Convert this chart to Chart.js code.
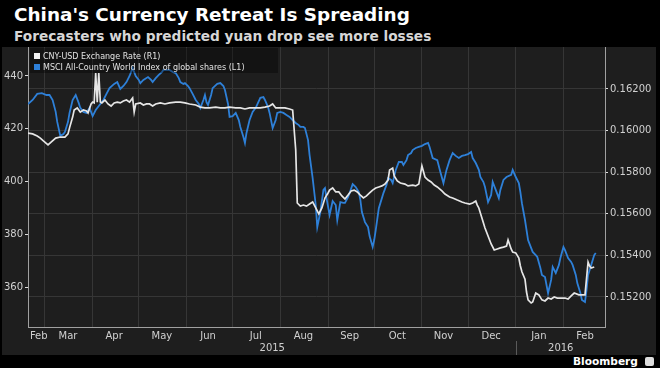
<!DOCTYPE html>
<html>
<head>
<meta charset="utf-8">
<script src="https://cdn.jsdelivr.net/npm/chart.js@4"></script>
<style>
  html, body { margin: 0; padding: 0; background: #000; }
  body { width: 660px; height: 368px; position: relative; overflow: hidden; font-family: "DejaVu Sans", sans-serif; }
  #title { position: absolute; left: 14px; top: 4px; color: #fff; font-weight: bold; font-size: 18.4px; line-height: 22px; white-space: nowrap; }
  #subtitle { position: absolute; left: 14px; top: 28px; color: #d6d6d6; font-weight: bold; font-size: 13.7px; line-height: 16px; white-space: nowrap; }
  #panel { position: absolute; left: 2px; top: 47px; width: 654px; height: 308px; background: #1e1e1e; }
  #legend { position: absolute; left: 30px; top: 48px; width: 248px; height: 25px; background: rgba(0,0,0,0.35); font-size: 8px; color: #e2e2e2; }
  #legend div { position: absolute; left: 4px; white-space: nowrap; line-height: 10px; }
  #legend span { display: inline-block; width: 6px; height: 6px; margin-right: 3px; vertical-align: 0px; }
  #brand { position: absolute; left: 573px; top: 355px; color: #fff; font-weight: bold; font-size: 10.6px; line-height: 13px; }
  #brand i { position: absolute; left: 72px; top: 2px; width: 9px; height: 9px; background: #ddd; border-radius: 2px; }
</style>
</head>
<body>
<div id="title">China's Currency Retreat Is Spreading</div>
<div id="subtitle">Forecasters who predicted yuan drop see more losses</div>
<div id="panel"><canvas id="chart" width="654" height="308"></canvas></div>
<div id="legend">
  <div style="top:4px"><span style="background:#f2f2f2"></span>CNY-USD Exchange Rate (R1)</div>
  <div style="top:15px"><span style="background:#2e80d8"></span>MSCI All-Country World Index of global shares (L1)</div>
</div>
<div id="brand">Bloomberg<i></i></div>
<script>
// x values are days counted from 1 Jan 2015 (day 0)
const cnyDays = [48,51,54,56,58,61,63,66,69,72,74,75,77,78,80,82,84,86,87,89,90,91,92,93,94,95,96,98,100,102,104,106,108,110,112,114,116,117,118,121,123,125,127,129,131,134,137,140,144,147,150,153,157,160,163,166,170,173,176,179,183,186,189,192,196,199,202,205,207,209,212,215,218,220,222,223,225,227,229,231,233,235,237,239,241,243,244,246,248,250,252,254,256,258,260,262,264,266,268,270,272,274,276,278,280,282,283,285,286,288,290,293,295,298,300,302,304,306,308,310,312,314,317,319,322,324,327,330,332,335,337,339,340,341,343,345,347,349,351,353,355,357,359,360,362,363,365,367,368,369,371,372,373,375,376,378,380,382,384,386,388,390,392,394,397,399,401,403,406,408,410,412,413,414,416];
const cnyRate = [0.15988,0.15984,0.15974,0.15964,0.15950,0.15931,0.15945,0.15964,0.15969,0.15969,0.15984,0.16013,0.16065,0.16099,0.16109,0.16089,0.16099,0.16094,0.16085,0.16128,0.16137,0.16133,0.16277,0.16137,0.16277,0.16137,0.16133,0.16147,0.16128,0.16118,0.16133,0.16137,0.16133,0.16142,0.16147,0.16137,0.16157,0.16089,0.16128,0.16133,0.16123,0.16128,0.16128,0.16118,0.16128,0.16133,0.16128,0.16133,0.16137,0.16137,0.16133,0.16128,0.16123,0.16113,0.16109,0.16109,0.16113,0.16109,0.16109,0.16113,0.16109,0.16109,0.16104,0.16109,0.16109,0.16109,0.16113,0.16118,0.16128,0.16109,0.16109,0.16109,0.16104,0.16099,0.15907,0.15652,0.15637,0.15642,0.15637,0.15647,0.15657,0.15628,0.15599,0.15628,0.15676,0.15700,0.15714,0.15724,0.15705,0.15705,0.15686,0.15671,0.15690,0.15710,0.15714,0.15705,0.15690,0.15676,0.15686,0.15700,0.15714,0.15724,0.15729,0.15734,0.15743,0.15762,0.15811,0.15820,0.15782,0.15758,0.15748,0.15743,0.15734,0.15738,0.15734,0.15743,0.15830,0.15777,0.15762,0.15753,0.15738,0.15729,0.15710,0.15695,0.15681,0.15676,0.15666,0.15657,0.15652,0.15647,0.15652,0.15661,0.15642,0.15628,0.15580,0.15532,0.15493,0.15455,0.15426,0.15431,0.15436,0.15440,0.15445,0.15474,0.15431,0.15416,0.15412,0.15387,0.15349,0.15321,0.15286,0.15224,0.15186,0.15171,0.15176,0.15219,0.15210,0.15186,0.15181,0.15195,0.15190,0.15200,0.15195,0.15195,0.15195,0.15190,0.15205,0.15219,0.15210,0.15210,0.15210,0.15368,0.15349,0.15339,0.15344];

const msciDays = [48,51,54,57,60,62,64,66,67,69,71,72,74,75,77,79,81,82,84,86,88,90,92,94,97,99,101,104,106,108,110,112,114,116,118,120,121,123,126,128,129,131,133,135,136,138,140,142,144,146,147,149,150,152,153,155,157,159,160,162,163,164,165,167,168,171,173,175,176,178,179,181,183,185,186,188,189,190,192,194,196,198,199,201,202,204,205,207,209,210,212,214,216,218,220,222,224,225,227,228,230,231,233,235,236,238,240,241,242,244,246,248,249,251,253,254,256,257,259,261,263,264,265,267,269,270,272,273,274,276,278,279,281,282,284,285,287,289,291,292,294,295,297,298,300,302,304,306,308,309,311,314,316,318,320,322,324,326,328,330,332,334,336,337,339,341,342,344,345,347,349,350,352,354,355,357,359,362,363,365,367,368,369,371,373,376,378,379,381,382,384,386,388,389,391,393,394,396,397,399,401,402,404,405,407,408,410,411,412,414,416,417];
const msciIndex = [429.4,430.9,433.2,433.5,432.8,432.8,430.9,426.4,422.6,417.3,418.0,418.8,422.6,426.0,430.9,432.8,429.7,427.9,426.4,426.0,427.9,424.8,427.1,428.6,430.9,433.2,435.4,437.0,437.7,435.1,436.2,437.7,440.0,443.0,440.0,438.5,437.3,438.5,439.6,438.5,437.7,439.2,440.4,441.5,442.3,442.3,442.3,441.5,441.1,439.2,437.7,437.0,437.3,436.2,435.4,433.2,430.9,429.4,427.9,430.9,432.8,430.1,429.0,432.8,435.4,437.0,437.3,436.2,434.7,429.4,424.5,424.8,426.0,423.3,420.7,416.9,414.6,418.4,423.3,426.4,427.9,430.5,431.7,432.0,430.9,428.2,426.0,420.3,423.3,426.0,426.4,426.0,425.2,424.5,423.3,422.2,421.4,420.7,420.7,420.3,415.7,410.0,401.3,391.1,382.7,388.4,396.8,397.5,393.7,387.3,392.6,391.1,385.4,392.2,391.9,391.9,394.1,395.6,399.0,397.9,396.0,393.0,388.4,384.6,382.7,379.3,375.2,377.8,381.6,389.9,393.7,395.6,398.7,401.3,400.6,399.4,404.4,407.4,407.4,406.3,408.1,410.0,410.8,411.9,412.7,413.1,413.5,414.2,414.6,413.1,408.9,408.1,403.6,399.4,404.4,408.1,410.8,409.7,408.9,409.7,410.0,410.4,411.2,408.9,407.0,404.4,401.7,399.8,397.9,392.2,394.9,399.8,396.8,393.7,396.8,400.6,401.7,402.5,404.4,401.7,399.4,396.0,391.8,385.4,377.8,373.3,372.1,371.4,367.2,364.6,363.8,357.7,362.7,367.6,365.3,368.3,371.0,375.2,374.0,371.0,369.5,368.3,364.6,361.5,357.7,355.1,354.3,358.9,364.6,368.3,372.1,372.9];

const monthStarts = [59,90,120,151,181,212,243,273,304,334,365,396];
const monthMids = [55,74,104,135,165,196,227,257,288,318,349,380,410];
const monthLabels = ['Feb','Mar','Apr','May','Jun','Jul','Aug','Sep','Oct','Nov','Dec','Jan','Feb'];
const years = ['2015','2016'];
const yearBreak = 365;
const leftTicks = [360,380,400,420,440];
const rightTicks = [0.152,0.154,0.156,0.158,0.160,0.162];

const gridColor = '#363636';
const axisColor = '#a0a0a0';
const labelColor = '#d0d0d0';
const font = { family: 'DejaVu Sans', size: 10 };

const yearMarks = {
  id: 'yearMarks',
  afterDraw(chart) {
    const sx = chart.scales.x, ctx = chart.ctx;
    const b = Math.round(sx.getPixelForValue(yearBreak)) + 0.5;
    ctx.save();
    ctx.fillStyle = labelColor;
    ctx.font = '10px "DejaVu Sans"';
    ctx.textAlign = 'center';
    ctx.textBaseline = 'middle';
    ctx.fillText(years[0], (sx.left + b) / 2, sx.top + 21);
    ctx.fillText(years[1], (b + sx.right) / 2, sx.top + 21);
    ctx.strokeStyle = '#5a5a5a';
    ctx.lineWidth = 1;
    ctx.beginPath();
    ctx.moveTo(b, sx.top + 14);
    ctx.lineTo(b, sx.top + 28);
    ctx.stroke();
    ctx.restore();
  }
};

function zeroPad(s) { s.paddingTop = 0; s.paddingBottom = 0; s.paddingLeft = 0; s.paddingRight = 0; }

new Chart(document.getElementById('chart'), {
  type: 'line',
  data: {
    datasets: [
      {
        label: 'CNY-USD Exchange Rate (R1)',
        data: cnyDays.map((d, i) => ({ x: d, y: cnyRate[i] })),
        yAxisID: 'yR',
        borderColor: '#e6e6e6',
        borderWidth: 1.7,
        pointRadius: 0,
        tension: 0
      },
      {
        label: 'MSCI All-Country World Index of global shares (L1)',
        data: msciDays.map((d, i) => ({ x: d, y: msciIndex[i] })),
        yAxisID: 'yL',
        borderColor: '#2e80d8',
        borderWidth: 1.8,
        pointRadius: 0,
        tension: 0
      }
    ]
  },
  options: {
    responsive: false,
    animation: false,
    layout: { padding: 0 },
    plugins: { legend: { display: false }, tooltip: { enabled: false } },
    scales: {
      x: {
        type: 'linear',
        min: 48,
        max: 423,
        afterBuildTicks: s => {
          s.ticks = monthStarts.concat(monthMids).sort((a, b) => a - b).map(v => ({ value: v }));
        },
        afterFit: s => { s.height = 28; zeroPad(s); },
        grid: {
          color: c => (c.tick && monthStarts.includes(c.tick.value)) ? gridColor : 'rgba(0,0,0,0)',
          drawTicks: false
        },
        border: { color: axisColor },
        ticks: {
          autoSkip: false,
          maxRotation: 0,
          color: labelColor,
          font: font,
          padding: 3,
          callback: v => {
            const i = monthMids.indexOf(v);
            return i >= 0 ? monthLabels[i] : '';
          }
        }
      },
      yL: {
        position: 'left',
        min: 344.84,
        max: 450.99,
        afterBuildTicks: s => { s.ticks = leftTicks.map(v => ({ value: v })); },
        afterFit: s => { s.width = 26; zeroPad(s); },
        grid: { drawOnChartArea: false, tickLength: 3, color: '#dddddd' },
        border: { color: axisColor },
        ticks: { color: labelColor, font: font, padding: 2 }
      },
      yR: {
        position: 'right',
        min: 0.150557,
        max: 0.164019,
        afterBuildTicks: s => { s.ticks = rightTicks.map(v => ({ value: v })); },
        afterFit: s => { s.width = 51; zeroPad(s); },
        grid: { color: gridColor, tickColor: '#dddddd', tickLength: 3 },
        border: { color: axisColor },
        ticks: { color: labelColor, font: font, padding: 2, callback: v => v.toFixed(5) }
      }
    }
  },
  plugins: [yearMarks]
});
</script>
</body>
</html>
